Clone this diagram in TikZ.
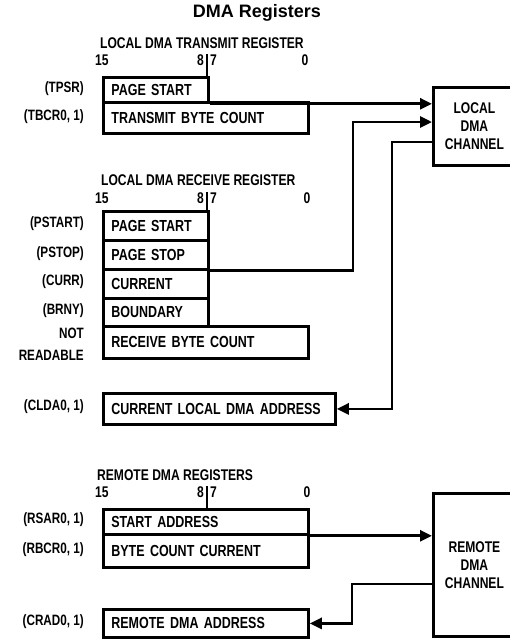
\documentclass[tikz,border=0pt]{standalone}
\usepackage{fontspec}
\newfontfamily\condfont{Liberation Sans}[FakeStretch=0.78]
\newfontfamily\titlefont{Liberation Sans}
\usetikzlibrary{arrows.meta}
\tikzset{
  regbox/.style={draw, line width=2.8pt, anchor=north west, inner xsep=8pt, inner ysep=0pt,
    align=left, font=\condfont\bfseries\fontsize{16}{18}\selectfont},
  chanbox/.style={draw, line width=2.8pt, anchor=north west, minimum width=82pt, align=center,
    font=\condfont\bfseries\fontsize{15.5}{18}\selectfont},
  hdr/.style={anchor=base west, inner sep=0pt, font=\condfont\bfseries\fontsize{15.5}{17}\selectfont},
  bitno/.style={inner sep=0pt, font=\condfont\bfseries\fontsize{15.5}{17}\selectfont},
  lbl/.style={anchor=east, inner sep=0pt, align=right, font=\condfont\bfseries\fontsize{15}{22}\selectfont},
  conn/.style={line width=2.8pt},
  arr/.style={conn, -{Triangle[length=12pt,width=11pt]}},
  tick/.style={line width=1.3pt}
}
\begin{document}
\begin{tikzpicture}[x=1pt,y=-1pt]
\clip (0,0) rectangle (510,641);
\fill[white] (0,0) rectangle (510,641);

% title
\node[font=\titlefont\bfseries\fontsize{18}{20}\selectfont] (title) at (257,13) {DMA Registers};

% ---------- transmit ----------
\node[hdr] (th) at (100,48) {LOCAL DMA TRANSMIT REGISTER};
\node[bitno, anchor=base west] (t15) at (95,65) {15};
\node[bitno, anchor=base east] (t8) at (204,65) {8};
\node[bitno, anchor=base west] (t7) at (210,65) {7};
\node[bitno, anchor=base] (t0) at (305,65) {0};
\coordinate (ttick) at (207,54);

\node[regbox, minimum width=105pt, minimum height=25pt, text width=89pt] (tpsr) at (102,76) {PAGE START};
\node[regbox, minimum width=205pt, minimum height=31pt, text width=189pt] (tbcr) at (102,101) {TRANSMIT BYTE COUNT};
\draw[tick] (ttick) -- (ttick |- tpsr.north);

\node[lbl] (ltpsr) at (84,89) {(TPSR)};
\node[lbl] (ltbcr) at (84,117) {(TBCR0, 1)};

% local channel
\node[chanbox, minimum height=78pt] (lch) at (432,86) {LOCAL\\DMA\\CHANNEL};

% ---------- receive ----------
\node[hdr] (rh) at (101,185) {LOCAL DMA RECEIVE REGISTER};
\node[bitno, anchor=base west] (r15) at (95,203) {15};
\node[bitno, anchor=base east] (r8) at (204,203) {8};
\node[bitno, anchor=base west] (r7) at (210,203) {7};
\node[bitno, anchor=base] (r0) at (307,203) {0};
\coordinate (rtick) at (207,192);

\node[regbox, minimum width=105pt, minimum height=29pt, text width=89pt] (pstart) at (102,210) {PAGE START};
\node[regbox, minimum width=105pt, minimum height=29pt, text width=89pt] (pstop) at (102,239) {PAGE STOP};
\node[regbox, minimum width=105pt, minimum height=29pt, text width=89pt] (curr) at (102,268) {CURRENT};
\node[regbox, minimum width=105pt, minimum height=28pt, text width=89pt] (brny) at (102,297) {BOUNDARY};
\node[regbox, minimum width=205pt, minimum height=32pt, text width=189pt] (rbcr) at (102,325) {RECEIVE BYTE COUNT};
\draw[tick] (rtick) -- (rtick |- pstart.north);

\node[lbl] (lpstart) at (84,224) {(PSTART)};
\node[lbl] (lpstop) at (84,254) {(PSTOP)};
\node[lbl] (lcurr) at (84,282) {(CURR)};
\node[lbl] (lbrny) at (84,311) {(BRNY)};
\node[lbl] (lnr) at (84,344) {NOT\\READABLE};

\node[regbox, minimum width=232pt, minimum height=31pt, text width=216pt] (clda) at (102,392) {CURRENT LOCAL DMA ADDRESS};
\node[lbl] (lclda) at (84,407) {(CLDA0, 1)};

% local connectors
\draw[arr] (tpsr.south east) -- (tpsr.south east -| lch.west);
\coordinate (j2) at (353,122);
\draw[arr] (pstop.south east) -- (pstop.south east -| j2) -- (j2) -- (lch.west |- j2);
\coordinate (j3) at (392,142);
\draw[arr] (lch.west |- j3) -- (j3) |- (clda.east);

% ---------- remote ----------
\node[hdr] (mh) at (97,480) {REMOTE DMA REGISTERS};
\node[bitno, anchor=base west] (m15) at (95,497) {15};
\node[bitno, anchor=base east] (m8) at (204,497) {8};
\node[bitno, anchor=base west] (m7) at (210,497) {7};
\node[bitno, anchor=base] (m0) at (307,497) {0};
\coordinate (mtick) at (207,486);

\node[regbox, minimum width=205pt, minimum height=25pt, text width=189pt] (rsar) at (102,508) {START ADDRESS};
\node[regbox, minimum width=205pt, minimum height=33pt, text width=189pt] (rbcr0) at (102,533) {BYTE COUNT CURRENT};
\draw[tick] (mtick) -- (mtick |- rsar.north);

\node[lbl] (lrsar) at (84,520) {(RSAR0, 1)};
\node[lbl] (lrbcr) at (84,550) {(RBCR0, 1)};

\node[regbox, minimum width=205pt, minimum height=28pt, text width=189pt] (crad) at (102,608) {REMOTE DMA ADDRESS};
\node[lbl] (lcrad) at (84,622) {(CRAD0, 1)};

\node[chanbox, minimum height=143pt] (rch) at (432,492) {REMOTE\\DMA\\CHANNEL};

\draw[arr] (rsar.south east) -- (rsar.south east -| rch.west);
\coordinate (j5) at (352,584);
\draw[arr] (rch.west |- j5) -- (j5) |- (crad.east);
\end{tikzpicture}
\end{document}
